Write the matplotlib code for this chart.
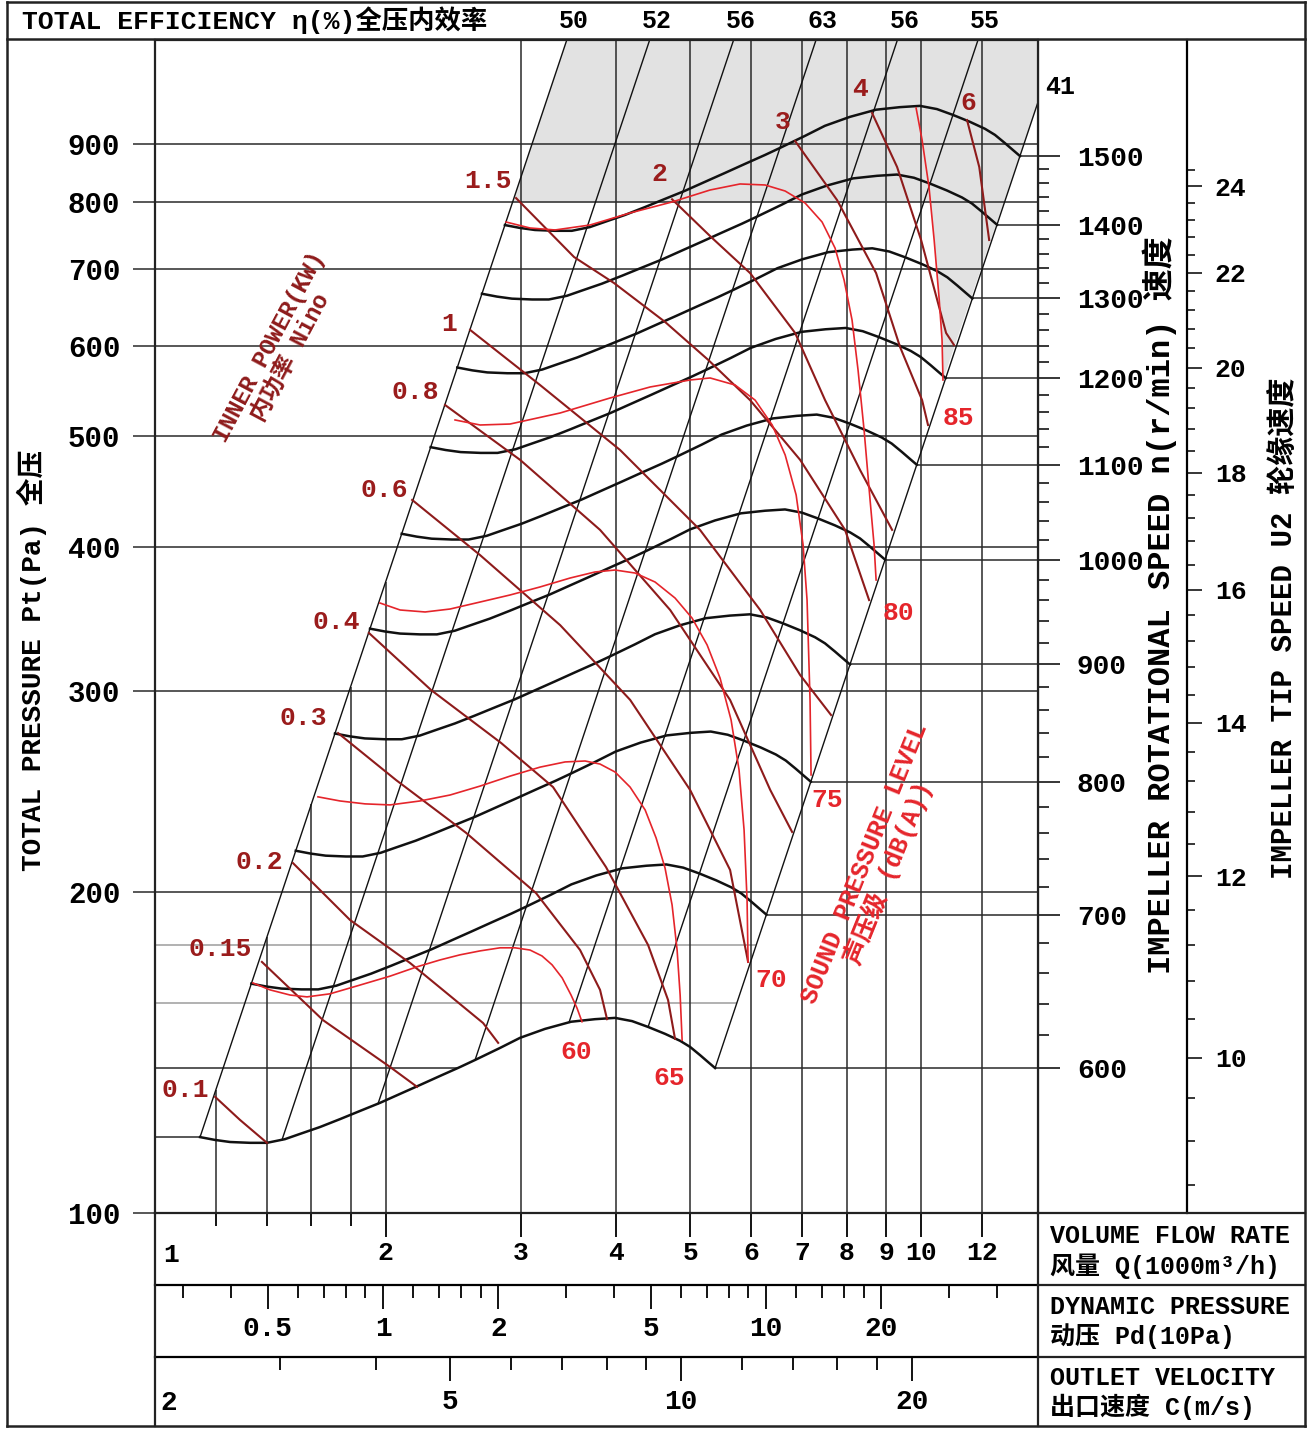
import numpy as np
import matplotlib
matplotlib.use("Agg")
import matplotlib.pyplot as plt
from matplotlib.lines import Line2D
from matplotlib.patches import Polygon
from matplotlib.ticker import FixedLocator, NullLocator, NullFormatter

plt.rcParams['font.family'] = ['Liberation Mono', 'Noto Sans CJK SC']
plt.rcParams['font.weight'] = 'bold'

# ---- values ----

# fan curve at 600 r/min: flow Q (1000 m3/h) and total pressure Pt (Pa)
base_speed = 600
base_q = [1.145, 1.198, 1.253, 1.331, 1.400, 1.478, 1.547, 1.642, 1.744, 1.852,
          1.966, 2.089, 2.218, 2.356, 2.502, 2.617, 2.821, 2.996, 3.229, 3.492,
          3.753, 3.986, 4.195, 4.402, 4.632, 4.847, 4.994, 5.146, 5.272, 5.384]
base_p = [122.3, 121.6, 121.1, 120.9, 120.9, 121.8, 123.1, 124.8, 126.8, 128.9,
          131.0, 133.4, 135.8, 138.3, 140.8, 142.8, 146.3, 149.3, 152.0, 154.2,
          155.0, 155.4, 154.4, 152.6, 150.5, 148.4, 146.6, 144.2, 142.2, 140.5]
speeds = [600, 700, 800, 900, 1000, 1100, 1200, 1300, 1400, 1500]

# total efficiency lines, given by the flow where they leave the 600 r/min curve
eff_q = [1.145, 1.465, 1.955, 2.617, 3.471, 4.402, 5.384]
eff_label = ['50', '52', '56', '63', '56', '55', '41']

# inner power lines (kW)
power_label = ['0.1', '0.15', '0.2', '0.3', '0.4', '0.6', '0.8', '1', '1.5', '2', '3', '4', '6']
power_q = [
    [1.198, 1.291, 1.400],
    [1.379, 1.657, 2.027, 2.198],
    [1.514, 1.797, 2.153, 2.681, 2.805],
    [1.734, 2.064, 2.547, 3.143, 3.588, 3.810, 3.891],
    [1.902, 2.293, 2.830, 3.308, 3.879, 4.402, 4.674, 4.773],
    [2.166, 2.657, 3.380, 4.171, 4.994, 5.632, 5.945],
    [2.391, 2.996, 3.810, 4.704, 5.632, 6.354, 6.786],
    [2.578, 3.181, 4.047, 5.145, 6.165, 6.952, 7.629],
    [2.960, 3.524, 3.974, 4.632, 5.272, 5.981, 6.952, 7.957, 8.553],
    [4.731, 5.320, 5.981, 6.848, 7.493, 8.325, 9.166],
    [6.848, 7.768, 8.735, 9.387, 10.03, 10.21],
    [8.630, 9.304, 10.00, 10.78, 11.04],
    [11.48, 11.91, 12.27],
]
power_p = [
    [132.6, 126.6, 120.9],
    [173.9, 154.7, 140.8, 135.3],
    [212.1, 189.2, 173.5, 153.8, 147.8],
    [275.4, 250.6, 225.4, 199.7, 178.1, 164.4, 155.0],
    [336.8, 300.3, 270.0, 247.1, 210.4, 179.9, 161.1, 149.0],
    [440.0, 393.8, 342.1, 294.4, 245.7, 209.2, 173.9],
    [532.5, 476.9, 414.3, 352.7, 294.4, 245.7, 225.8],
    [619.2, 554.3, 486.4, 414.3, 352.7, 309.5, 285.6],
    [807.0, 716.8, 680.3, 629.2, 583.1, 537.7, 476.9, 414.3, 359.8],
    [805.0, 746.2, 694.1, 615.4, 537.7, 467.2, 414.3],
    [905.0, 803.8, 694.1, 598.3, 537.7, 511.5],
    [957.4, 859.0, 741.8, 615.4, 600.7],
    [944.0, 859.0, 741.8],
]

# sound pressure level lines dB(A)
sound_label = ['60', '65', '70', '75', '80', '85']
sound_q = [
    [1.342, 1.413, 1.501, 1.579, 1.692, 1.852, 2.027, 2.198, 2.356, 2.502,
     2.657, 2.821, 2.951, 3.087, 3.200, 3.298, 3.400, 3.492, 3.555, 3.609],
    [1.632, 1.744, 1.880, 2.027, 2.218, 2.428, 2.657, 2.907, 3.181, 3.430, 3.642,
     3.810, 3.986, 4.170, 4.363, 4.509, 4.632, 4.731, 4.803, 4.847, 4.876],
    [1.966, 2.089, 2.252, 2.428, 2.657, 2.907, 3.181, 3.482, 3.753, 3.986, 4.233,
     4.495, 4.773, 5.024, 5.256, 5.465, 5.649, 5.786, 5.874, 5.927, 5.945],
    [2.464, 2.657, 2.907, 3.380, 3.926, 4.429, 4.994, 5.304, 5.717, 6.072, 6.392,
     6.646, 6.869, 7.014, 7.098, 7.162, 7.184],
    [2.872, 3.087, 3.328, 3.697, 4.170, 4.731, 5.304, 5.803, 6.258, 6.646, 7.056,
     7.426, 7.721, 7.934, 8.126, 8.274, 8.425, 8.578, 8.682, 8.735],
    [9.851, 10.03, 10.24, 10.40, 10.56, 10.65, 10.68],
]
sound_p = [
    [166.7, 164.4, 162.7, 162.1, 163.1, 166.0, 169.0, 172.2, 174.6, 176.4,
     177.8, 178.9, 178.9, 178.1, 176.0, 172.9, 168.4, 162.7, 158.5, 154.2],
    [242.3, 240.3, 238.9, 238.4, 240.3, 243.2, 247.6, 252.6, 257.2, 259.9, 260.4,
     258.8, 254.7, 247.1, 236.0, 223.1, 210.0, 195.0, 178.1, 162.7, 148.6],
    [357.7, 352.7, 351.3, 353.4, 358.4, 363.5, 369.4, 376.1, 380.7, 382.2, 379.9,
     373.1, 361.3, 347.0, 328.8, 307.6, 282.8, 255.7, 226.7, 196.9, 173.9],
    [516.7, 511.5, 512.5, 524.0, 540.0, 552.1, 559.9, 562.2, 554.3, 537.7, 511.5,
     481.6, 444.4, 402.0, 359.8, 294.4, 253.2],
    [769.1, 759.9, 756.9, 764.5, 783.2, 800.7, 820.2, 830.2, 828.5, 818.5, 799.0,
     769.1, 729.9, 684.4, 631.6, 571.1, 506.4, 440.0, 402.0, 374.6],
    [967.0, 906.9, 825.2, 741.8, 657.7, 606.8, 559.9],
]

# axes
pressure_ticks = [200, 300, 400, 500, 600, 700, 800, 900]
pressure_bottom = 105.0      # lowest line of the chart, printed there as "100"
pressure_light = [160, 180]
flow_major = [1, 2, 3, 4, 5, 6, 7, 8, 9, 10, 12]
flow_minor = [1.2, 1.4, 1.6, 1.8]
pd_major = [0.5, 1, 2, 5, 10, 20]
pd_minor = [0.3, 0.4, 0.6, 0.7, 0.8, 0.9, 1.2, 1.4, 1.6, 1.8, 3, 4, 6, 7, 8, 9, 12, 14, 16, 18, 30, 40]
vel_major = [5, 10, 20]
vel_minor = [3, 4, 6, 7, 8, 9, 12, 14, 16, 18]
tip_major = [10, 12, 14, 16, 18, 20, 22, 24]
impeller_d = 0.315     # m  (U2 = pi D n / 60)
outlet_area = 0.135    # m2 (C = Q / A)
air_density = 1.2
shade_above = 800      # Pa

# ---- layout (pixels of the 1310 x 1432 picture) ----
W, H = 1310, 1432
L, R, T, B = 155, 1038, 40, 1213
q_lo, q_hi = 1.0, 14.21
p_hi = 1108.7

grid_c = '#2a2a2a'
curve_c = '#111111'
power_c = '#8e1b1b'
sound_c = '#e5252b'

bq = np.array(base_q)
bp = np.array(base_p)
q_start, p_start = bq[0], bp[0]
q_end, p_end = bq[-1], bp[-1]


def on_base(q):
    return np.exp(np.interp(np.log(q), np.log(bq), np.log(bp)))


def left_limit_p(q):
    return p_start * (np.asarray(q) / q_start) ** 2


def right_limit_q(p):
    return q_end * np.sqrt(np.asarray(p) / p_end)


def p_to_speed(p):
    return base_speed * np.sqrt(np.clip(p, 1e-9, None) / p_end)


def speed_to_p(n):
    return p_end * (np.asarray(n, float) / base_speed) ** 2


def p_to_tip(p):
    return np.pi * impeller_d * p_to_speed(p) / 60


def tip_to_p(u):
    return speed_to_p(np.asarray(u, float) * 60 / (np.pi * impeller_d))


def q_to_vel(q):
    return np.asarray(q, float) * 1000 / 3600 / outlet_area


def vel_to_q(c):
    return np.asarray(c, float) * outlet_area * 3600 / 1000


def q_to_pd(q):
    return air_density * q_to_vel(q) ** 2 / 2 / 10


def pd_to_q(pd):
    return vel_to_q(np.sqrt(np.clip(pd, 1e-12, None) * 20 / air_density))


fig = plt.figure(figsize=(W / 100, H / 100), dpi=100)
ax = fig.add_axes([L / W, 1 - B / H, (R - L) / W, (B - T) / H])
ax.set_xscale('log')
ax.set_yscale('log')
ax.set_xlim(q_lo, q_hi)
ax.set_ylim(pressure_bottom, p_hi)
for s in ax.spines.values():
    s.set_linewidth(1.6)
    s.set_color('#222222')

# shaded zone: above 800 Pa and beyond the 85 dB(A) line
s85q = np.array(sound_q[-1])
s85p = np.array(sound_p[-1])
q85 = np.exp(np.interp(np.log(shade_above), np.log(s85p[::-1]), np.log(s85q[::-1])))
below = s85p < shade_above
verts = [(q_start * np.sqrt(shade_above / p_start), shade_above),
         (q_start * np.sqrt(p_hi / p_start), p_hi),
         (q_hi, p_hi),
         (q_hi, p_end * (q_hi / q_end) ** 2)]
verts += list(zip(s85q[below][::-1], s85p[below][::-1]))
verts += [(q85, shade_above)]
ax.add_patch(Polygon(verts, closed=True, facecolor='#e2e2e2', edgecolor='none', zorder=0))

# grid
for p in pressure_ticks:
    ax.axhline(p, color=grid_c, lw=1.1, zorder=1)
ax.hlines(pressure_light, q_lo, right_limit_q(pressure_light), color='#9c9c9c', lw=1.1, zorder=1)
ax.hlines(p_start, q_lo, q_start, color=grid_c, lw=1.1, zorder=1)
i_min, i_max = int(np.argmin(bp)), int(np.argmax(bp))
rise = slice(i_min, i_max + 1)
q_cross = np.exp(np.interp(np.log(p_end), np.log(bp[rise]), np.log(bq[rise])))
ax.hlines(p_end, q_lo, q_cross, color=grid_c, lw=1.1, zorder=1)
for n in speeds:
    k = n / base_speed
    ax.hlines(p_end * k * k, q_end * k, q_hi, color=grid_c, lw=1.1, zorder=1)
for q in flow_minor + flow_major[1:]:
    top = left_limit_p(q) if q <= 2 else p_hi
    ax.vlines(q, pressure_bottom, top, color=grid_c, lw=1.1, zorder=1)

# efficiency lines
for q, lab in zip(eff_q, eff_label):
    p = on_base(q)
    ax.plot([q, q * 4], [p, p * 16], color=curve_c, lw=1.0, zorder=2)
    q_top = q * np.sqrt(p_hi / p)
    if q_top < q_hi:
        ax.annotate(lab, (q_top, p_hi), xytext=(5, 14), textcoords='offset points',
                    ha='center', va='center', fontsize=18, annotation_clip=False)
    else:
        ax.annotate(lab, (q_hi, p * (q_hi / q) ** 2), xytext=(16, 11), textcoords='offset points',
                    ha='center', va='center', fontsize=18, annotation_clip=False)

# fan curves
for n in speeds:
    k = n / base_speed
    ax.plot(bq * k, bp * k * k, color=curve_c, lw=1.8, zorder=3, solid_joinstyle='round')

# power lines
power_off = [(-4, 5), (-7, 9), (-7, 1), (-8, 11), (-6, 8), (-3, 7), (-4, 9), (-9, 4), (-3, 12),
             (-9, 18), (-9, 14), (-9, 17), (1, 12)]
for i, lab in enumerate(power_label):
    ax.plot(power_q[i], power_p[i], color=power_c, lw=1.5, zorder=4, solid_joinstyle='round')
    ha = 'right' if i < 9 else 'center'
    ax.annotate(lab, (power_q[i][0], power_p[i][0]), xytext=power_off[i], textcoords='offset points',
                ha=ha, va='center', fontsize=19, color='#9a1c1c', zorder=6)

# sound level lines
sound_off = [(-4, -22), (-9, -27), (17, -13), (12, -18), (16, -24), (11, -27)]
for i, lab in enumerate(sound_label):
    ax.plot(sound_q[i], sound_p[i], color=sound_c, lw=1.2, zorder=4, solid_joinstyle='round')
    ax.annotate(lab, (sound_q[i][-1], sound_p[i][-1]), xytext=sound_off[i], textcoords='offset points',
                ha='center', va='center', fontsize=19, color=sound_c, zorder=6)

# main ticks
ax.set_yticks([pressure_bottom] + pressure_ticks, labels=['100'] + [str(p) for p in pressure_ticks])
ax.yaxis.set_minor_locator(NullLocator())
ax.set_xticks(flow_major, labels=['' if q == 1 else str(q) for q in flow_major])
ax.xaxis.set_minor_locator(FixedLocator(flow_minor))
ax.xaxis.set_minor_formatter(NullFormatter())
ax.tick_params(axis='y', direction='out', length=16, width=1.1, color=grid_c, pad=9, labelsize=21)
ax.tick_params(axis='x', which='major', direction='out', length=17, width=1.3, pad=3, labelsize=19)
ax.tick_params(axis='x', which='minor', direction='out', length=9, width=1.3)
ax.annotate('1', (0, 0), xycoords='axes fraction', xytext=(12, -30), textcoords='offset points',
            ha='center', va='center', fontsize=19, annotation_clip=False)

# speed axis
sec_n = ax.secondary_yaxis('right', functions=(p_to_speed, speed_to_p))
sec_n.set_ticks(speeds, labels=[str(n) for n in speeds])
sec_n.yaxis.set_minor_locator(FixedLocator([n for n in range(600, 1500, 20) if n % 100]))
sec_n.yaxis.set_minor_formatter(NullFormatter())
sec_n.tick_params(which='major', direction='out', length=16, width=1.1, pad=12, labelsize=20)
sec_n.tick_params(which='minor', direction='out', length=8, width=1.1)

# tip speed axis
sec_u = ax.secondary_yaxis((1187 - L) / (R - L), functions=(p_to_tip, tip_to_p))
sec_u.set_ticks(tip_major, labels=[str(u) for u in tip_major])
tip_minor = [round(8.8 + 0.4 * i, 1) for i in range(40)]
sec_u.yaxis.set_minor_locator(FixedLocator([u for u in tip_minor if u not in tip_major]))
sec_u.yaxis.set_minor_formatter(NullFormatter())
sec_u.tick_params(which='major', direction='out', length=11, width=1.1, pad=9, labelsize=19)
sec_u.tick_params(which='minor', direction='out', length=6, width=1.1)
for s in sec_u.spines.values():
    s.set_linewidth(1.6)

# dynamic pressure and outlet velocity rows
sec_pd = ax.secondary_xaxis(-(1285 - B) / (B - T), functions=(q_to_pd, pd_to_q))
sec_pd.set_ticks(pd_major, labels=[str(v) for v in pd_major])
sec_pd.xaxis.set_minor_locator(FixedLocator(pd_minor))
sec_pd.xaxis.set_minor_formatter(NullFormatter())
sec_pd.tick_params(which='major', direction='out', length=17, width=1.3, pad=5, labelsize=20)
sec_pd.tick_params(which='minor', direction='out', length=9, width=1.3)
sec_c = ax.secondary_xaxis(-(1357 - B) / (B - T), functions=(q_to_vel, vel_to_q))
sec_c.set_ticks(vel_major, labels=[str(v) for v in vel_major])
sec_c.xaxis.set_minor_locator(FixedLocator(vel_minor))
sec_c.xaxis.set_minor_formatter(NullFormatter())
sec_c.tick_params(which='major', direction='out', length=17, width=1.3, pad=6, labelsize=20)
sec_c.tick_params(which='minor', direction='out', length=9, width=1.3)
for sa in (sec_pd, sec_c):
    for s in sa.spines.values():
        s.set_linewidth(1.6)
ax.annotate('2', (0, -(1357 - B) / (B - T)), xycoords='axes fraction', xytext=(10, -33),
            textcoords='offset points', ha='center', va='center', fontsize=20, annotation_clip=False)


# frame
def frame(x0, y0, x1, y1, lw=1.8):
    fig.add_artist(Line2D([x0 / W, x1 / W], [1 - y0 / H, 1 - y1 / H], color='#222222', lw=lw))


frame(7, 2, 1305, 2)
frame(7, 1426, 1305, 1426)
frame(7, 2, 7, 1426)
frame(1305, 2, 1305, 1426)
frame(7, 39, 1305, 39)
frame(L, B, L, 1426, 1.6)
frame(R, B, R, 1426, 1.6)
for y in (B, 1285, 1357):
    frame(R, y, 1305, y, 1.6)

# texts
fig.text(22 / W, 1 - 20 / H, 'TOTAL EFFICIENCY η(%)全压内效率', ha='left', va='center', fontsize=19)
fig.text(32 / W, 1 - 660 / H, 'TOTAL PRESSURE Pt(Pa) 全压', rotation=90, ha='center', va='center', fontsize=20)
fig.text(1160 / W, 1 - 605 / H, 'IMPELLER ROTATIONAL SPEED n(r/min) 速度', rotation=90,
         ha='center', va='center', fontsize=23)
fig.text(1285 / W, 1 - 628 / H, 'IMPELLER TIP SPEED U2 轮缘速度', rotation=90,
         ha='center', va='center', fontsize=21)
box_text = [(1236, 'VOLUME FLOW RATE'), (1266, '风量 Q(1000m³/h)'),
            (1307, 'DYNAMIC PRESSURE'), (1336, '动压 Pd(10Pa)'),
            (1378, 'OUTLET VELOCITY'), (1407, '出口速度 C(m/s)')]
for y, t in box_text:
    fig.text(1050 / W, 1 - y / H, t, ha='left', va='center', fontsize=18)
fig.text(280 / W, 1 - 352 / H, 'INNER POWER(KW)\n内功率 Nino', rotation=62, ha='center', va='center',
         fontsize=17, color=power_c, linespacing=1.0, multialignment='center')
fig.text(877 / W, 1 - 868 / H, 'SOUND PRESSURE LEVEL\n声压级 (dB(A))', rotation=68, ha='center',
         va='center', fontsize=18, color=sound_c, linespacing=1.0, multialignment='center')

fig.savefig('out.png', dpi=100)
